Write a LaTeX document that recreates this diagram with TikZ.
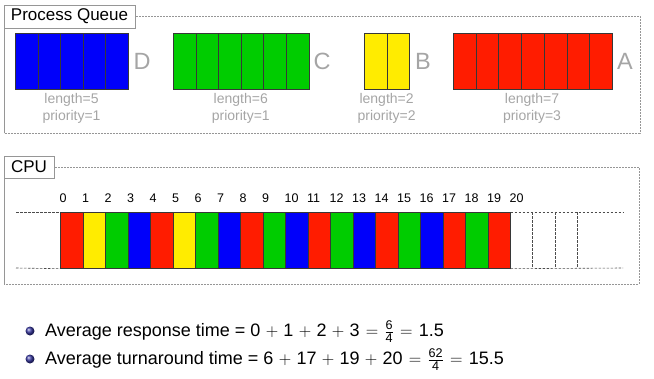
\documentclass[tikz,border=0pt]{standalone}
\usepackage{amsmath}
\usepackage{fontspec}
\setmainfont{Liberation Sans}
\usetikzlibrary{shadings}
\definecolor{qred}{RGB}{255,28,0}
\definecolor{qyellow}{RGB}{255,236,0}
\definecolor{qgreen}{RGB}{0,204,0}
\definecolor{qblue}{RGB}{0,0,250}
\definecolor{frame}{RGB}{150,150,150}
\definecolor{lbl}{RGB}{165,165,165}
\definecolor{cellborder}{RGB}{55,55,55}
\definecolor{bulletc}{RGB}{55,55,160}
\newcommand{\nd}[1]{\text{#1}}
\medmuskip=5.5mu plus 2mu minus 4mu
\thickmuskip=6.5mu plus 5mu
\tikzset{
  cellbox/.style={draw=cellborder, line width=0.7pt},
  framedash/.style={draw=frame, line width=0.6pt, dash pattern=on 2pt off 1pt},
  framesolid/.style={draw=frame, line width=0.8pt},
  titlebox/.style={draw=frame, line width=0.6pt, fill=white, inner sep=0pt, font=\fontsize{17}{20}\selectfont},
  bigletter/.style={text=lbl, font=\fontsize{23.5}{26}\selectfont, inner sep=0pt},
  infolabel/.style={text=lbl, font=\fontsize{14}{16}\selectfont, inner sep=0pt, align=center},
  ticklabel/.style={font=\fontsize{12.5}{14}\selectfont, inner sep=0pt, anchor=base west},
  tldash/.style={draw=black!70, line width=0.6pt, dash pattern=on 2.5pt off 1.5pt},
  bullettext/.style={font=\fontsize{18}{21}\selectfont, inner sep=0pt, anchor=base west},
}
\begin{document}
\begin{tikzpicture}[x=1pt, y=-1pt]
\useasboundingbox (0,0) rectangle (654,378);

% ---------- Process Queue frame ----------
\draw[framedash] (4,16) -- (640,16) -- (640,133) -- (4,133);
\draw[framesolid] (4,16) -- (4,133);
\node[titlebox, minimum width=131pt, minimum height=23pt] (pqtitle) at (69.5,16.5) {Process Queue};

% D : blue, 5 cells
\foreach \i in {0,...,4} {
  \node[cellbox, fill=qblue, minimum width=22.6pt, minimum height=56pt, inner sep=0pt, anchor=north west] (d\i) at (15+22.6*\i,33) {};
}
% C : green, 6 cells
\foreach \i in {0,...,5} {
  \node[cellbox, fill=qgreen, minimum width=22.6pt, minimum height=56pt, inner sep=0pt, anchor=north west] (c\i) at (173+22.6*\i,33) {};
}
% B : yellow, 2 cells
\foreach \i in {0,...,1} {
  \node[cellbox, fill=qyellow, minimum width=22.6pt, minimum height=56pt, inner sep=0pt, anchor=north west] (b\i) at (364+22.6*\i,33) {};
}
% A : red, 7 cells
\foreach \i in {0,...,6} {
  \node[cellbox, fill=qred, minimum width=22.7pt, minimum height=56pt, inner sep=0pt, anchor=north west] (a\i) at (453+22.7*\i,33) {};
}

\node[bigletter] (lD) at (142,61) {D};
\node[bigletter] (lC) at (322,61) {C};
\node[bigletter] (lB) at (423,61) {B};
\node[bigletter] (lA) at (625,61) {A};

\node[infolabel] (iD1) at (71.5,100) {length=5};
\node[infolabel] (iD2) at (71.5,117) {priority=1};
\node[infolabel] (iC1) at (240.8,100) {length=6};
\node[infolabel] (iC2) at (240.8,117) {priority=1};
\node[infolabel] (iB1) at (386.6,100) {length=2};
\node[infolabel] (iB2) at (386.6,117) {priority=2};
\node[infolabel] (iA1) at (532,100) {length=7};
\node[infolabel] (iA2) at (532,117) {priority=3};

% ---------- CPU frame ----------
\draw[framedash] (4,167) -- (639,167) -- (639,284) -- (4,284);
\draw[framesolid] (4,167) -- (4,284);
\node[titlebox, minimum width=50pt, minimum height=22pt] (cputitle) at (29,167) {CPU};

% timeline cells
\foreach \i/\c in {0/qred,1/qyellow,2/qgreen,3/qblue,4/qred,5/qyellow,6/qgreen,7/qblue,8/qred,9/qgreen,10/qblue,11/qred,12/qgreen,13/qblue,14/qred,15/qgreen,16/qblue,17/qred,18/qgreen,19/qred} {
  \node[cellbox, fill=\c, minimum width=22.5pt, minimum height=56pt, inner sep=0pt, anchor=north west] (t\i) at (60+22.5*\i,212) {};
}
\foreach \i in {0,...,20} {
  \node[ticklabel] (n\i) at (59.5+22.5*\i,202.5) {\i};
}
% dashed lead-in
\coordinate (lt) at (16,212);
\coordinate (lb) at (16,268);
\draw[tldash] (lt) -- (t0.north west);
\draw[tldash] (lb) -- (t0.south west);
% dashed empty slots
\coordinate (rt) at (623,212);
\coordinate (rb) at (623,268);
\draw[tldash] (t19.north east) -- (rt);
\draw[tldash] (t19.south east) -- (rb);
\foreach \k in {1,2,3} {
  \coordinate (vt\k) at (510+22.5*\k,212);
  \coordinate (vb\k) at (510+22.5*\k,268);
  \draw[tldash] (vt\k) -- (vb\k);
}

% ---------- bullets ----------
\shade[ball color=bulletc] (30,331) circle (4.5pt);
\shade[ball color=bulletc] (30,359) circle (4.5pt);
\node[bullettext] (r1) at (45,336.5) {Average response time = $\nd{0}+\nd{1}+\nd{2}+\nd{3}=\frac{\nd{6}}{\nd{4}}=\nd{1.5}$};
\node[bullettext] (r2) at (45,364.5) {Average turnaround time = $\nd{6}+\nd{17}+\nd{19}+\nd{20}=\frac{\nd{62}}{\nd{4}}=\nd{15.5}$};
\end{tikzpicture}
\end{document}
